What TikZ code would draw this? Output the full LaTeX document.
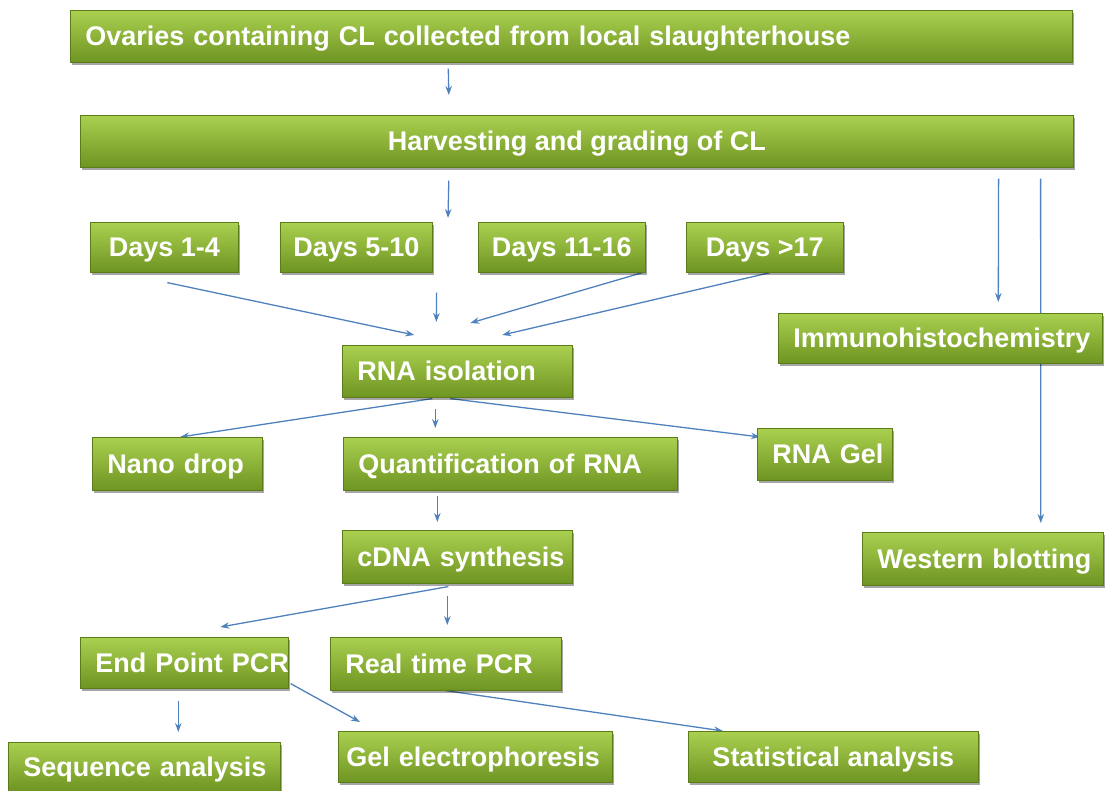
\documentclass[tikz,border=0pt]{standalone}
\usepackage{fontspec}
\setmainfont{Liberation Sans}
\usepackage{tikz}
\usetikzlibrary{arrows.meta,shadows,backgrounds}
\definecolor{boxtop}{RGB}{170,208,80}
\definecolor{boxbot}{RGB}{110,148,34}
\definecolor{boxline}{RGB}{92,124,26}
\definecolor{flowblue}{RGB}{79,129,189}

\begin{document}
\begin{tikzpicture}[x=1pt, y=-1pt,
  boxbase/.style={anchor=north west, draw=boxline, line width=0.6pt,
    top color=boxtop, bottom color=boxbot, text=white,
    font=\bfseries\fontsize{27}{30}\selectfont,
    inner xsep=15pt, inner ysep=0pt, minimum height=52pt,
    text height=20pt, text depth=1pt,
    drop shadow={shadow xshift=2pt, shadow yshift=-3pt, fill=black, opacity=0.35}},
  stepbox/.style={boxbase, align=left, text width=#1,
    execute at begin node={\leavevmode\hbox\bgroup},
    execute at end node={\egroup}},
  midbox/.style={boxbase, inner xsep=6pt, minimum width=#1},
  flow/.style={draw=flowblue, line width=1.3pt, -{Stealth[length=9pt,width=6.5pt]}}]
\useasboundingbox (0,0) rectangle (1105,791);

% ================= collection and grading =================
\node[stepbox=972pt] (ovaries) at (70,10)
  {Ovaries containing CL collected from local slaughterhouse};
\node[midbox=993pt] (harvest) at (80,115) {Harvesting and grading of CL};

% ================= stages of the cycle =================
\node[midbox=148pt, minimum height=50pt] (day1) at (90,222)  {Days 1-4};
\node[midbox=152pt, minimum height=50pt] (day2) at (280,222) {Days 5-10};
\node[midbox=167pt, minimum height=50pt] (day3) at (478,222) {Days 11-16};
\node[midbox=157pt, minimum height=50pt] (day4) at (686,222) {Days >17};
\coordinate (days) at (448,218);

% ================= protein branch =================
\node[stepbox=294pt, minimum height=50pt] (ihc) at (778,313) {Immunohistochemistry};
\node[stepbox=211pt, minimum height=53pt] (western) at (862,532) {Western blotting};

% ================= RNA branch =================
\node[stepbox=200pt] (rna) at (342,345) {RNA isolation};
\node[stepbox=140pt, minimum height=53pt] (nano) at (92,437)  {Nano drop};
\node[stepbox=304pt, minimum height=53pt] (quant) at (343,437) {Quantification of RNA};
\node[stepbox=105pt] (rnagel) at (757,428) {RNA Gel};
\node[stepbox=200pt, minimum height=53pt] (cdna) at (342,530) {cDNA synthesis};
\node[stepbox=178pt, minimum height=51pt] (endpcr) at (80,637) {End Point PCR};
\node[stepbox=201pt, minimum height=53pt] (rtpcr) at (330,637) {Real time PCR};
\node[stepbox=242pt, minimum height=49pt] (seq) at (8,742) {Sequence analysis};
\node[stepbox=258pt, inner xsep=8pt, minimum height=51pt] (gel) at (338,731)
  {Gel electrophoresis};
\node[midbox=290pt, minimum height=51pt] (stat) at (688,731) {Statistical analysis};

% ================= connectors =================
% drawn behind the boxes: the western line passes under Immunohistochemistry
\begin{scope}[on background layer]
\draw[flow] ([xshift=-123pt,yshift=-6pt]ovaries.south) -- ([xshift=-128pt,yshift=20pt]harvest.north);
\draw[flow] ([xshift=-128pt,yshift=-13pt]harvest.south) -- (days);
\draw[flow] ([xshift=-75pt,yshift=-11pt]harvest.south east) -- ([xshift=58pt,yshift=11pt]ihc.north);
\draw[flow] ([xshift=-33pt,yshift=-11pt]harvest.south east) -- ([xshift=58pt,yshift=9pt]western.north);

\draw[flow] ([xshift=3pt,yshift=-10pt]day1.south) -- ([xshift=-43pt,yshift=10pt]rna.north);
\draw[flow] ([xshift=4pt,yshift=-20pt]day2.south east) -- ([xshift=-21pt,yshift=23pt]rna.north);
\draw[flow] ([xshift=-3pt]day3.south east) -- ([xshift=13pt,yshift=22pt]rna.north);
\draw[flow] ([xshift=5.5pt]day4.south) -- ([xshift=45pt,yshift=10pt]rna.north);

\draw[flow] ([xshift=-25pt,yshift=-1pt]rna.south) -- ([xshift=3pt]nano.north);
\draw[flow] ([xshift=-22pt,yshift=-11pt]rna.south) -- ([xshift=-75pt,yshift=9pt]quant.north);
\draw[flow] ([xshift=-7pt,yshift=-1pt]rna.south) -- ([xshift=3pt,yshift=-9pt]rnagel.north west);
\draw[flow] ([xshift=-73pt,yshift=-5pt]quant.south) -- ([xshift=-20pt,yshift=8pt]cdna.north);

\draw[flow] ([xshift=-9pt,yshift=-3pt]cdna.south) -- ([xshift=36pt,yshift=10pt]endpcr.north);
\draw[flow] ([xshift=-10pt,yshift=-12pt]cdna.south) -- ([xshift=1.5pt,yshift=12pt]rtpcr.north);
\draw[flow] ([xshift=-6pt,yshift=-12pt]endpcr.south) -- ([xshift=34pt,yshift=10pt]seq.north);
\draw[flow] ([xshift=2pt,yshift=5pt]endpcr.south east) -- ([xshift=22pt,yshift=9pt]gel.north west);
\draw[flow] (rtpcr.south) -- ([xshift=35pt]stat.north west);
\end{scope}
\end{tikzpicture}
\end{document}
